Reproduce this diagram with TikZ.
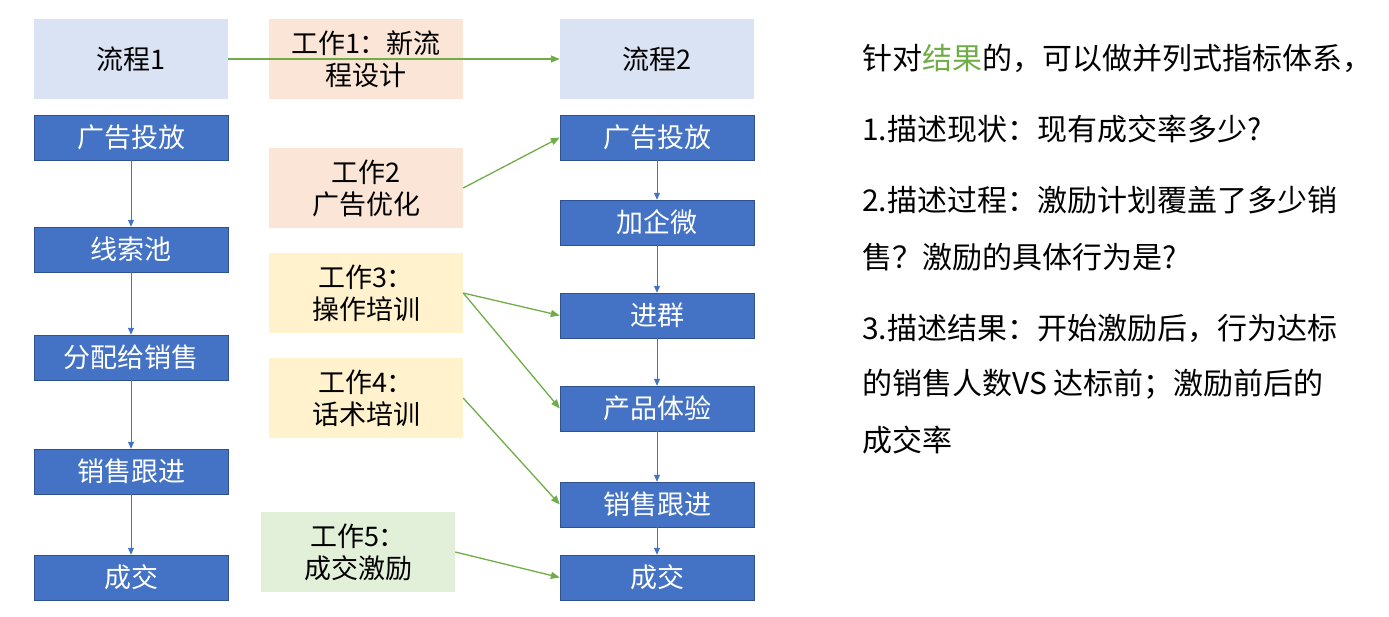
\documentclass[tikz,border=0pt]{standalone}
\usepackage{fontspec}
\setmainfont{Noto Sans CJK SC}
\usetikzlibrary{arrows.meta}
\definecolor{boxblue}{HTML}{4472C4}
\definecolor{boxedge}{HTML}{2F528F}
\definecolor{paleblue}{HTML}{DAE3F3}
\definecolor{palepeach}{HTML}{FBE5D6}
\definecolor{paleyellow}{HTML}{FFF2CC}
\definecolor{palegreen}{HTML}{E2F0D9}
\definecolor{linkgreen}{HTML}{70AD47}
\tikzset{
  stepbox/.style={draw=boxedge,fill=boxblue,text=white,minimum width=194pt,minimum height=45pt,inner sep=0pt,font=\fontsize{27}{32}\selectfont},
  headbox/.style={fill=paleblue,minimum width=194pt,minimum height=80pt,inner sep=0pt,font=\fontsize{27}{32}\selectfont},
  workbox/.style={minimum width=194pt,minimum height=80pt,inner sep=0pt,align=center,font=\fontsize{27}{32}\selectfont},
  flow/.style={boxblue,line width=1pt,-{Triangle[length=7pt,width=6pt]}},
  link/.style={linkgreen,line width=1.3pt,-{Triangle[length=9pt,width=7pt]}},
  note/.style={anchor=west,inner sep=0pt,font=\fontsize{30}{34}\selectfont}
}
\begin{document}
\begin{tikzpicture}[x=1pt,y=-1pt]
\useasboundingbox (0,0) rectangle (1389,617);
\node[headbox] (h1) at (131,59) {流程1};
\node[headbox] (h2) at (657,59) {流程2};
\node[workbox,fill=palepeach] (w1) at (366,59) {工作1：新流\\程设计};
\node[stepbox] (a1) at (131,137.5) {广告投放};
\node[stepbox] (a2) at (131,249.5) {线索池};
\node[stepbox] (a3) at (131,357.5) {分配给销售};
\node[stepbox] (a4) at (131,471.5) {销售跟进};
\node[stepbox] (a5) at (131,577.5) {成交};
\node[stepbox] (b1) at (657,137.5) {广告投放};
\node[stepbox] (b2) at (657,222.5) {加企微};
\node[stepbox] (b3) at (657,315.5) {进群};
\node[stepbox] (b4) at (657,408.5) {产品体验};
\node[stepbox] (b5) at (657,504.5) {销售跟进};
\node[stepbox] (b6) at (657,577.5) {成交};
\node[workbox,fill=palepeach] (w2) at (366,188) {工作2\\广告优化};
\node[workbox,fill=paleyellow] (w3) at (366,293) {工作3：\\操作培训};
\node[workbox,fill=paleyellow] (w4) at (366,398) {工作4：\\话术培训};
\node[workbox,fill=palegreen] (w5) at (358,552) {工作5：\\成交激励};
\draw[flow] (a1)--(a2); \draw[flow] (a2)--(a3); \draw[flow] (a3)--(a4); \draw[flow] (a4)--(a5);
\draw[flow] (b1)--(b2); \draw[flow] (b2)--(b3); \draw[flow] (b3)--(b4); \draw[flow] (b4)--(b5); \draw[flow] (b5)--(b6);
\draw[link] (h1.east)--(h2.west);
\draw[link] (w2.east)--(b1.west);
\draw[link] (w3.east)--(b3.west);
\draw[link] (w3.east)--(b4.west);
\draw[link] (w4.east)--(b5.west);
\draw[link] (w5.east)--(b6.west);
\node[note] (t1) at (862,58) {针对\textcolor{linkgreen}{结果}的，可以做并列式指标体系，};
\node[note] (t2) at (862,129) {1.描述现状：现有成交率多少?};
\node[note] (t3) at (862,200) {2.描述过程：激励计划覆盖了多少销};
\node[note] (t4) at (862,257) {售？激励的具体行为是?};
\node[note] (t5) at (862,328) {3.描述结果：开始激励后，行为达标};
\node[note] (t6) at (862,384) {的销售人数VS 达标前；激励前后的};
\node[note] (t7) at (862,440) {成交率};
\end{tikzpicture}
\end{document}
